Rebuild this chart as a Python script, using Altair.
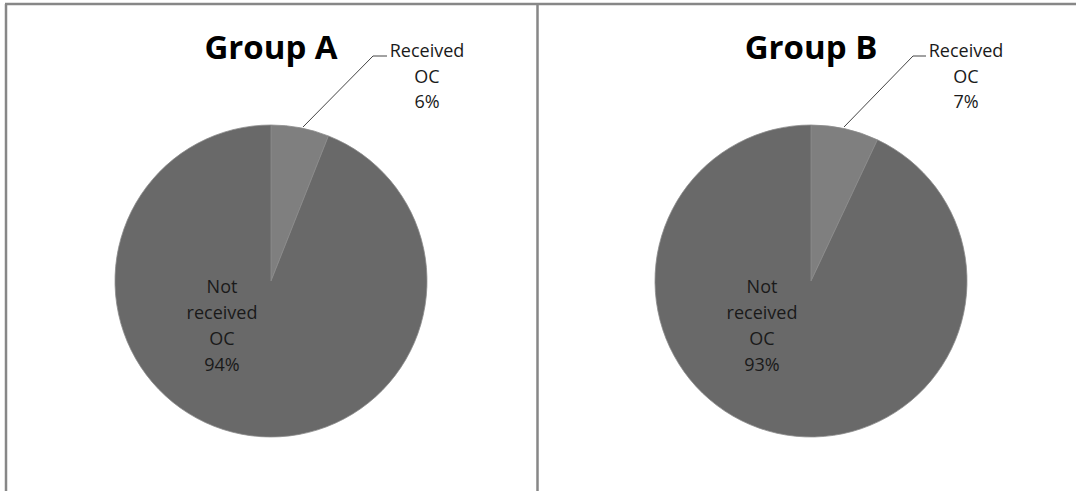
import altair as alt
import pandas as pd

groups = ["Group A", "Group B"]
categories = ["Received OC", "Not received OC"]
received = [6, 7]
not_received = [94, 93]
label_words = {"Received OC": ["Received", "OC"], "Not received OC": ["Not", "received", "OC"]}

rows = []
for g, r, n in zip(groups, received, not_received):
    for k, (c, v) in enumerate(zip(categories, [r, n])):
        rows.append({"group": g, "category": c, "value": v, "order": k,
                     "label": "\n".join(label_words[c] + [f"{v}%"])})
df = pd.DataFrame(rows)

W, H = 1076, 491
R = 156
centers = {"Group A": (271, 281), "Group B": (811, 281)}
recv_label_pos = {"Group A": (427, 52), "Group B": (966, 52)}
not_label_pos = {"Group A": (222, 288), "Group B": (762, 288)}
leaders = {"Group A": [(303, 127, 373, 56), (373, 56, 387, 56)],
           "Group B": [(844, 127, 913, 56), (913, 56, 926, 56)]}

FONT = "Open Sans"
base = alt.Chart(df)
layers = []

for g in groups:
    cx, cy = centers[g]
    sub = base.transform_filter(alt.datum.group == g)
    arc = sub.mark_arc(outerRadius=R, stroke="#8c8c8c", strokeWidth=0.8).encode(
        theta=alt.Theta("value:Q", stack=True),
        color=alt.Color("category:N",
                        scale=alt.Scale(domain=categories, range=["#7f7f7f", "#696969"]),
                        legend=None),
        order=alt.Order("order:Q"),
        x=alt.value(cx),
        y=alt.value(cy),
    )
    layers.append(arc)

    title = sub.transform_filter(alt.datum.order == 0).mark_text(
        font=FONT, fontSize=33, fontWeight="bold", color="#000000",
        align="center", baseline="alphabetic"
    ).encode(text="group:N", x=alt.value(cx), y=alt.value(59))
    layers.append(title)

    rx, ry = recv_label_pos[g]
    rl = sub.transform_filter(alt.datum.category == "Received OC").mark_text(
        font=FONT, fontSize=18, color="#1a1a1a", align="center", baseline="middle",
        lineBreak="\n", lineHeight=25.5
    ).encode(text="label:N", x=alt.value(rx), y=alt.value(ry))
    layers.append(rl)

    nx, ny = not_label_pos[g]
    nl = sub.transform_filter(alt.datum.category == "Not received OC").mark_text(
        font=FONT, fontSize=18, color="#1a1a1a", align="center", baseline="middle",
        lineBreak="\n", lineHeight=26
    ).encode(text="label:N", x=alt.value(nx), y=alt.value(ny))
    layers.append(nl)

    for (x1, y1, x2, y2) in leaders[g]:
        layers.append(sub.transform_filter(alt.datum.order == 0).mark_rule(
            color="#444444", strokeWidth=1).encode(
            x=alt.value(x1), y=alt.value(y1), x2=alt.value(x2), y2=alt.value(y2)))

# panel borders
border_specs = [(5, 4, W, 4), (6, 4, 6, H), (537.5, 4, 537.5, H)]
for (x1, y1, x2, y2) in border_specs:
    layers.append(base.transform_filter(alt.datum.order == 0).transform_filter(
        alt.datum.group == "Group A").mark_rule(color="#878787", strokeWidth=2.5).encode(
        x=alt.value(x1), y=alt.value(y1), x2=alt.value(x2), y2=alt.value(y2)))

chart = alt.layer(*layers).resolve_scale(theta="independent").properties(
    width=W, height=H, padding=0, autosize=alt.AutoSizeParams(type="none"),
    background="white"
).configure_view(stroke=None)

chart.save("out.html", embed_options={"renderer": "svg", "actions": False})
